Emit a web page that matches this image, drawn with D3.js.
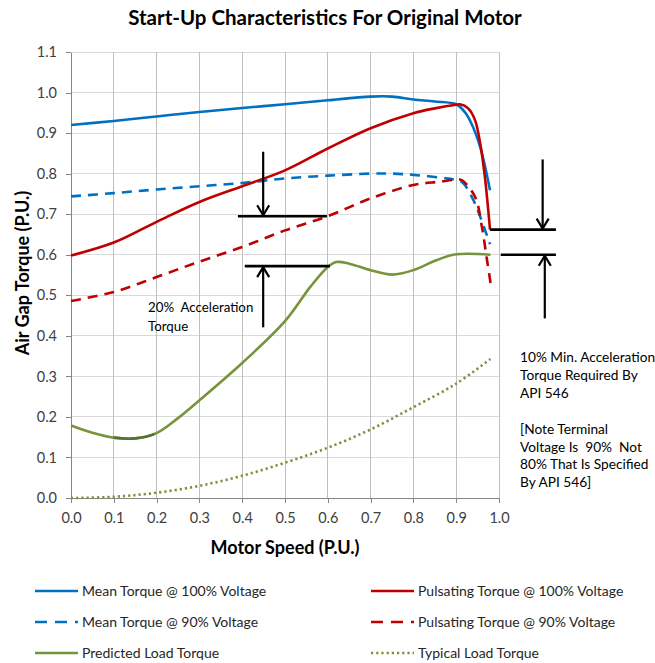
<!DOCTYPE html>
<html>
<head>
<meta charset="utf-8">
<script src="https://cdn.jsdelivr.net/npm/d3@7"></script>
<style>
  html, body { margin: 0; padding: 0; background: #fff; }
  text { font-family: Lato, "Open Sans", sans-serif; }
</style>
</head>
<body>
<script>
// Start-up torque curves (per-unit air-gap torque vs per-unit motor speed)
const meanFullSpeed   = [0, 0.1, 0.2, 0.3, 0.4, 0.5, 0.6, 0.7, 0.75, 0.8, 0.85, 0.9, 0.92, 0.935, 0.956, 0.979];
const meanFullTorque  = [0.920, 0.930, 0.941, 0.952, 0.962, 0.971, 0.981, 0.990, 0.990, 0.983, 0.978, 0.971, 0.952, 0.925, 0.866, 0.759];

const pulsFullSpeed   = [0, 0.1, 0.2, 0.3, 0.4, 0.5, 0.6, 0.7, 0.8, 0.85, 0.9, 0.909, 0.928, 0.944, 0.956, 0.967, 0.979];
const pulsFullTorque  = [0.598, 0.630, 0.681, 0.730, 0.769, 0.808, 0.862, 0.912, 0.949, 0.961, 0.970, 0.971, 0.961, 0.932, 0.875, 0.792, 0.662];

const meanLowSpeed    = [0, 0.1, 0.2, 0.3, 0.4, 0.5, 0.6, 0.7, 0.75, 0.8, 0.88, 0.9, 0.916, 0.94, 0.956, 0.979];
const meanLowTorque   = [0.744, 0.752, 0.761, 0.769, 0.777, 0.788, 0.795, 0.800, 0.800, 0.797, 0.788, 0.784, 0.777, 0.735, 0.694, 0.626];

const pulsLowSpeed    = [0, 0.1, 0.2, 0.3, 0.4, 0.5, 0.6, 0.7, 0.8, 0.86, 0.9, 0.913, 0.944, 0.96, 0.972, 0.981];
const pulsLowTorque   = [0.486, 0.508, 0.545, 0.583, 0.619, 0.660, 0.695, 0.739, 0.772, 0.780, 0.785, 0.784, 0.743, 0.669, 0.587, 0.525];

const predLoadSpeed   = [0, 0.05, 0.1, 0.15, 0.2, 0.25, 0.3, 0.4, 0.5, 0.56, 0.6, 0.62, 0.65, 0.7, 0.75, 0.8, 0.855, 0.9, 0.98];
const predLoadTorque  = [0.179, 0.161, 0.149, 0.147, 0.160, 0.197, 0.241, 0.333, 0.436, 0.522, 0.570, 0.582, 0.578, 0.562, 0.551, 0.562, 0.587, 0.601, 0.600];

const typLoadSpeed    = [0, 0.1, 0.2, 0.3, 0.4, 0.5, 0.6, 0.7, 0.8, 0.9, 0.98];
const typLoadTorque   = [0.000, 0.003, 0.013, 0.030, 0.055, 0.087, 0.124, 0.169, 0.224, 0.282, 0.343];

const xTickValues = [0, 0.1, 0.2, 0.3, 0.4, 0.5, 0.6, 0.7, 0.8, 0.9, 1.0];
const yTickValues = [0, 0.1, 0.2, 0.3, 0.4, 0.5, 0.6, 0.7, 0.8, 0.9, 1.0, 1.1];

// Acceleration-margin markers, in chart units
const marginLines = [
  { x1: 0.390, x2: 0.598, y: 0.695 },
  { x1: 0.406, x2: 0.605, y: 0.572 },
  { x1: 0.979, x2: 1.133, y: 0.662 },
  { x1: 1.004, x2: 1.133, y: 0.600 }
];
const marginArrows = [
  { x: 0.449, from: 0.854, to: 0.695 },
  { x: 0.449, from: 0.421, to: 0.572 },
  { x: 1.102, from: 0.835, to: 0.662 },
  { x: 1.107, from: 0.443, to: 0.600 }
];

const BLUE = "#0070C0", RED = "#C00000", GREEN = "#77933C";
const series = [
  { name: "Mean Torque @ 100% Voltage",      speed: meanFullSpeed, torque: meanFullTorque, color: BLUE,  dash: null },
  { name: "Pulsating Torque @ 100% Voltage", speed: pulsFullSpeed, torque: pulsFullTorque, color: RED,   dash: null },
  { name: "Mean Torque @ 90% Voltage",       speed: meanLowSpeed,  torque: meanLowTorque,  color: BLUE,  dash: "10,7" },
  { name: "Pulsating Torque @ 90% Voltage",  speed: pulsLowSpeed,  torque: pulsLowTorque,  color: RED,   dash: "10,7" },
  { name: "Predicted Load Torque",           speed: predLoadSpeed, torque: predLoadTorque, color: GREEN, dash: null },
  { name: "Typical Load Torque",             speed: typLoadSpeed,  torque: typLoadTorque,  color: GREEN, dash: "2.2,3" }
];

const W = 655, H = 663;
const svg = d3.select("body").append("svg").attr("width", W).attr("height", H);
svg.append("rect").attr("width", W).attr("height", H).attr("fill", "#fff");

const x = d3.scaleLinear().domain([0, 1]).range([71, 499]);
const y = d3.scaleLinear().domain([0, 1.1]).range([498, 52]);

// Title
svg.append("text").attr("x", 325).attr("y", 25).attr("text-anchor", "middle")
  .attr("font-size", 20.5).attr("font-weight", "bold").attr("fill", "#000")
  .text("Start-Up Characteristics For Original Motor");

// Grid
const grid = svg.append("g");
grid.selectAll(".hg").data(yTickValues.slice(1)).join("line")
  .attr("x1", x(0)).attr("x2", x(1)).attr("y1", d => y(d)).attr("y2", d => y(d))
  .attr("stroke", "#d9d9d9").attr("stroke-width", 1).attr("shape-rendering", "crispEdges");
grid.selectAll(".vg").data(xTickValues.slice(1)).join("line")
  .attr("x1", d => x(d)).attr("x2", d => x(d)).attr("y1", y(0)).attr("y2", y(1.1))
  .attr("stroke", "#c0c0c0").attr("stroke-width", 1).attr("shape-rendering", "crispEdges");

// Axes
const fmt = d3.format(".1f");
const yAxis = svg.append("g").attr("transform", `translate(${x(0)},0)`)
  .call(d3.axisLeft(y).tickValues(yTickValues).tickFormat(fmt).tickSize(5).tickSizeOuter(0).tickPadding(9));
const xAxis = svg.append("g").attr("transform", `translate(0,${y(0)})`)
  .call(d3.axisBottom(x).tickValues(xTickValues).tickFormat(fmt).tickSize(5).tickSizeOuter(0).tickPadding(10));
[xAxis, yAxis].forEach(g => {
  g.select(".domain").attr("stroke", "#868686").attr("shape-rendering", "crispEdges");
  g.selectAll(".tick line").attr("stroke", "#868686").attr("shape-rendering", "crispEdges");
  g.selectAll(".tick text").attr("fill", "#404040").attr("font-size", 14.5)
    .attr("font-family", 'Lato, "Open Sans", sans-serif');
});

// Axis titles
svg.append("text").attr("x", 285).attr("y", 554).attr("text-anchor", "middle")
  .attr("font-size", 18).attr("font-weight", "bold").attr("fill", "#000")
  .text("Motor Speed (P.U.)");
svg.append("text").attr("transform", "translate(28.5,273) rotate(-90)").attr("text-anchor", "middle")
  .attr("font-size", 18).attr("font-weight", "bold").attr("fill", "#000")
  .text("Air Gap Torque (P.U.)");

// Curves
const line = d3.line().x(d => x(d[0])).y(d => y(d[1])).curve(d3.curveCatmullRom.alpha(0.5));
const curves = svg.append("g");
const drawOrder = [4, 5, 2, 3, 0, 1];
drawOrder.forEach(i => {
  const s = series[i];
  curves.append("path").datum(d3.zip(s.speed, s.torque))
    .attr("d", line).attr("fill", "none").attr("stroke", s.color)
    .attr("stroke-width", 2.6).attr("stroke-dasharray", s.dash)
    .attr("stroke-linejoin", "round");
});

// Darker stretch of the predicted load curve around its minimum
svg.append("clipPath").attr("id", "minClip").append("rect")
  .attr("x", x(0.1)).attr("width", x(0.195) - x(0.1)).attr("y", y(0.3)).attr("height", y(0) - y(0.3));
svg.append("path").datum(d3.zip(predLoadSpeed, predLoadTorque))
  .attr("d", line).attr("fill", "none").attr("stroke", "#5a7030").attr("stroke-width", 2.6)
  .attr("clip-path", "url(#minClip)");

// Margin markers and arrows
const ann = svg.append("g").attr("stroke", "#000").attr("fill", "none");
ann.selectAll(".ml").data(marginLines).join("line")
  .attr("x1", d => x(d.x1)).attr("x2", d => x(d.x2)).attr("y1", d => y(d.y)).attr("y2", d => y(d.y))
  .attr("stroke-width", 2.6);
marginArrows.forEach(a => {
  const ax = x(a.x), y0 = y(a.from), y1 = y(a.to);
  const dir = Math.sign(y1 - y0);
  ann.append("line").attr("x1", ax).attr("x2", ax).attr("y1", y0).attr("y2", y1 - dir * 1)
    .attr("stroke-width", 2.2);
  ann.append("path")
    .attr("d", `M${ax - 6},${y1 - dir * 11} L${ax},${y1 - dir * 1} L${ax + 6},${y1 - dir * 11}`)
    .attr("stroke-width", 2.2).attr("stroke-linejoin", "miter");
});

// Notes
const note = (lines, x0, y0, step, size) => {
  const t = svg.append("text").attr("font-size", size).attr("fill", "#000");
  lines.forEach((l, i) => t.append("tspan").attr("x", x0).attr("y", y0 + i * step)
    .attr("xml:space", "preserve").style("white-space", "pre").text(l));
};
note(["20%  Acceleration", "Torque"], 148, 312, 18.5, 13.3);
note(["10% Min. Acceleration", "Torque Required By", "API 546"], 520, 362, 18, 13.7);
note(["[Note Terminal", "Voltage Is  90%  Not", "80% That Is Specified", "By API 546]"], 520, 434, 17.7, 13.7);

// Legend
const legendPos = [
  { lx: 35, tx: 82, ty: 591 }, { lx: 371, tx: 418, ty: 591 },
  { lx: 35, tx: 82, ty: 622 }, { lx: 371, tx: 418, ty: 622 },
  { lx: 35, tx: 82, ty: 653 }, { lx: 371, tx: 418, ty: 653 }
];
const legend = svg.append("g");
series.forEach((s, i) => {
  const p = legendPos[i];
  legend.append("line").attr("x1", p.lx).attr("x2", p.lx + 43).attr("y1", p.ty).attr("y2", p.ty)
    .attr("stroke", s.color).attr("stroke-width", 2.6)
    .attr("stroke-dasharray", s.dash ? (s.dash === "10,7" ? "12,8" : s.dash) : null);
  legend.append("text").attr("x", p.tx).attr("y", p.ty + 5).attr("font-size", 14)
    .attr("fill", "#262626").text(s.name);
});
</script>
</body>
</html>
